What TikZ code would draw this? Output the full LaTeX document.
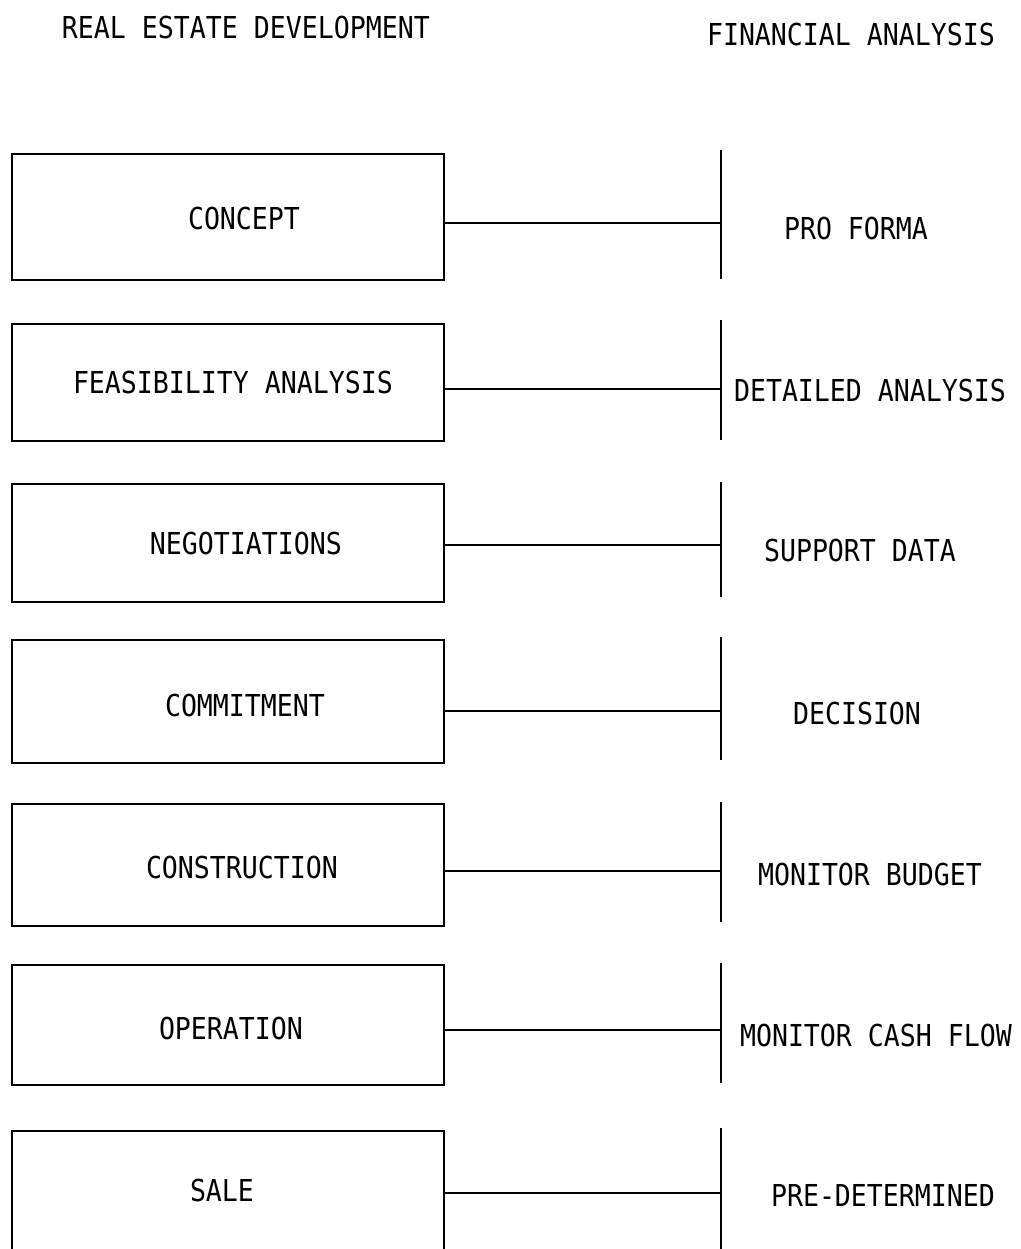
\documentclass[tikz,border=0pt]{standalone}
\usepackage{fontspec}
\usetikzlibrary{fit}
\newfontfamily\plotfont[FakeStretch=0.88]{DejaVu Sans Mono}
\begin{document}
\begin{tikzpicture}[x=0.5pt,y=-0.5pt,
  stage/.style={draw, line width=1.2pt, rectangle, inner sep=0pt, outer sep=0pt},
  phase/.style={font=\plotfont\fontsize{15.1pt}{18pt}\selectfont, inner sep=0pt},
  rail/.style={line width=1.2pt},
  link/.style={line width=1.1pt}]
  \useasboundingbox (0,0) rectangle (1021,1249);
  \clip (0,0) rectangle (1021,1249);

  % column headings
  \node[phase] (hdev) at (246,28) {REAL ESTATE DEVELOPMENT};
  \node[phase] (hfin) at (851,35) {FINANCIAL ANALYSIS};

  % development stages: box, bar on the analysis side, and the link between them
  \foreach \i/\bt/\bb/\tt/\tb/\jy in {
      1/154/280/150/279/222.7,
      2/324/441/320/440/389,
      3/484/602/482/597/545,
      4/640/763/637/760/711,
      5/804/926/802/922/871,
      6/965/1085/963/1083/1030,
      7/1131/1270/1128/1270/1193}{
    \coordinate (a\i) at (12,\bt);
    \coordinate (b\i) at (444,\bb);
    \node[stage, fit=(a\i)(b\i)] (s\i) {};
    \coordinate (t\i) at (720.7,\tt);
    \coordinate (u\i) at (720.7,\tb);
    \coordinate (j\i) at (720.7,\jy);
    \draw[rail] (t\i) -- (u\i);
    \draw[link] (s\i.east |- j\i) -- (j\i);
  }

  % stage names
  \node[phase] (l1) at (244,218) {CONCEPT};
  \node[phase] (l2) at (233,382) {FEASIBILITY ANALYSIS};
  \node[phase] (l3) at (246,543) {NEGOTIATIONS};
  \node[phase] (l4) at (245,705) {COMMITMENT};
  \node[phase] (l5) at (242,867) {CONSTRUCTION};
  \node[phase] (l6) at (231,1028) {OPERATION};
  \node[phase] (l7) at (222,1190) {SALE};

  % analysis tasks
  \node[phase] (r1) at (856,228) {PRO FORMA};
  \node[phase] (r2) at (870,390) {DETAILED ANALYSIS};
  \node[phase] (r3) at (860,550) {SUPPORT DATA};
  \node[phase] (r4) at (857,713) {DECISION};
  \node[phase] (r5) at (870,874) {MONITOR BUDGET};
  \node[phase] (r6) at (876,1035) {MONITOR CASH FLOW};
  \node[phase] (r7) at (883,1195) {PRE-DETERMINED};
\end{tikzpicture}
\end{document}
